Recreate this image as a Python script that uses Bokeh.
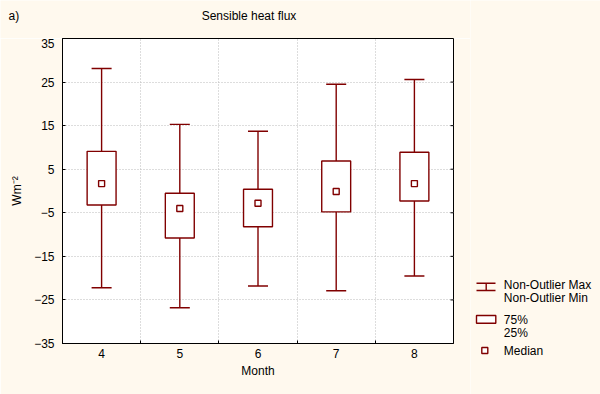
import numpy as np
from bokeh.plotting import figure
from bokeh.layouts import row, column
from bokeh.models import Range1d, FixedTicker, Label, ColumnDataSource
from bokeh.embed import file_html
from bokeh.resources import INLINE

# ---- data ----
months = [4, 5, 6, 7, 8]
whisker_max = [28.1, 15.3, 13.7, 24.5, 25.6]
q3 = [9.1, -0.5, 0.4, 6.9, 8.9]
median = [1.7, -4.0, -2.8, -0.1, 1.7]
q1 = [-3.2, -10.8, -8.2, -4.8, -2.3]
whisker_min = [-22.2, -26.8, -21.8, -22.9, -19.5]
y_ticks = [-35, -25, -15, -5, 5, 15, 25, 35]
title_text = "Sensible heat flux"
panel_tag = "a)"
x_label = "Month"
y_label = "Wm\u207b\u00b2"
legend_labels = ["Non-Outlier Max", "Non-Outlier Min", "75%", "25%", "Median"]

BG = "#FFF9EE"
RED = "#800000"
FONT = "Liberation Sans"
FS = "12px"
LW = 1.4

m = np.array(months, dtype=float)
src = ColumnDataSource(dict(
    x=m, top=q3, bottom=q1, med=median, wmax=whisker_max, wmin=whisker_min,
    cx0=m - 0.128, cx1=m + 0.128))

# ---- header strip (title + tag) ----
hd = figure(width=470, height=38, output_backend="svg", toolbar_location=None,
            x_range=Range1d(0, 470), y_range=Range1d(38, 0),
            x_axis_type=None, y_axis_type=None,
            min_border=0, min_border_left=0, min_border_right=0,
            min_border_top=0, min_border_bottom=0)
hd.frame_align = False
hd.border_fill_color = BG
hd.background_fill_color = BG
hd.outline_line_color = None
hd.grid.visible = False
hd.add_layout(Label(x=248.5, y=15, text=title_text, text_align="center",
                    text_baseline="middle", text_font=FONT, text_font_size=FS,
                    text_color="black"))
hd.add_layout(Label(x=8, y=15, text=panel_tag, text_align="left",
                    text_baseline="middle", text_font=FONT, text_font_size=FS,
                    text_color="black"))

# ---- main plot ----
p = figure(width=470, height=356, output_backend="svg", toolbar_location=None,
           x_range=Range1d(3.5, 8.5), y_range=Range1d(-35, 35),
           min_border_left=62, min_border_right=17, min_border_top=0,
           min_border_bottom=51)
p.frame_align = False
p.border_fill_color = BG
p.background_fill_color = "white"
p.outline_line_color = "black"
p.outline_line_width = 1

p.xaxis.ticker = FixedTicker(ticks=months, minor_ticks=[4.5, 5.5, 6.5, 7.5])
p.xaxis.major_tick_in = 0
p.xaxis.major_tick_out = 0
p.xaxis.minor_tick_in = 3
p.xaxis.minor_tick_out = 0
p.xaxis.minor_tick_line_color = "black"
p.xaxis.major_label_standoff = 5
p.xaxis.axis_label = x_label
p.xaxis.axis_label_standoff = 3

p.yaxis.ticker = FixedTicker(ticks=y_ticks)
p.yaxis.major_tick_in = 3
p.yaxis.major_tick_out = 0
p.yaxis.minor_tick_line_color = None
p.yaxis.major_label_standoff = 8
p.yaxis.axis_label = y_label
p.yaxis.axis_label_standoff = 7

for ax in [p.xaxis[0], p.yaxis[0]]:
    ax.major_label_text_font = FONT
    ax.major_label_text_font_size = FS
    ax.major_label_text_color = "black"
    ax.axis_label_text_font = FONT
    ax.axis_label_text_font_size = FS
    ax.axis_label_text_font_style = "normal"
    ax.axis_label_text_color = "black"
    ax.axis_line_color = "black"
    ax.major_tick_line_color = "black"

p.xgrid.ticker = FixedTicker(ticks=[4.5, 5.5, 6.5, 7.5])
p.ygrid.ticker = FixedTicker(ticks=y_ticks)
for g in [p.xgrid[0], p.ygrid[0]]:
    g.grid_line_color = "#BBBBBB"
    g.grid_line_dash = "1 2"
    g.grid_line_width = 1

# inward ticks on the right frame edge
p.ray(x=[p.x_range.end] * len(y_ticks), y=y_ticks, length=3, length_units="screen",
      angle=np.pi, line_color="black", line_width=1)

p.segment(x0="x", y0="wmin", x1="x", y1="wmax", source=src, line_color=RED, line_width=LW)
p.segment(x0="cx0", y0="wmax", x1="cx1", y1="wmax", source=src, line_color=RED, line_width=LW)
p.segment(x0="cx0", y0="wmin", x1="cx1", y1="wmin", source=src, line_color=RED, line_width=LW)
p.vbar(x="x", width=0.37, top="top", bottom="bottom", source=src,
       fill_color="white", line_color=RED, line_width=LW)
p.scatter(x="x", y="med", source=src, marker="square", size=6,
          fill_color="white", line_color=RED, line_width=LW)

# ---- legend panel ----
lg = figure(width=130, height=394, output_backend="svg", toolbar_location=None,
            x_range=Range1d(0, 130), y_range=Range1d(394, 0),
            x_axis_type=None, y_axis_type=None,
            min_border=0, min_border_left=0, min_border_right=0,
            min_border_top=0, min_border_bottom=0)
lg.frame_align = False
lg.border_fill_color = BG
lg.background_fill_color = BG
lg.outline_line_color = None
lg.grid.visible = False

lg.segment(x0=[6, 6, 15.7], y0=[282.7, 290, 282.7], x1=[25, 25, 15.7], y1=[282.7, 290, 290],
           line_color=RED, line_width=LW)
lg.quad(left=[6], right=[25.3], top=[315], bottom=[322.7], fill_color="white",
        line_color=RED, line_width=LW)
lg.scatter(x=[14.3], y=[350], marker="square", size=6, fill_color="white",
           line_color=RED, line_width=LW)

leg_y = [284, 297.3, 319, 332.3, 350.7]
for t, yy in zip(legend_labels, leg_y):
    lg.add_layout(Label(x=33.3, y=yy, text=t, text_align="left", text_baseline="middle",
                        text_font=FONT, text_font_size=FS, text_color="black"))

layout = row(column(hd, p, spacing=0), lg, spacing=0)
open("out.html", "w").write(file_html(layout, INLINE))
